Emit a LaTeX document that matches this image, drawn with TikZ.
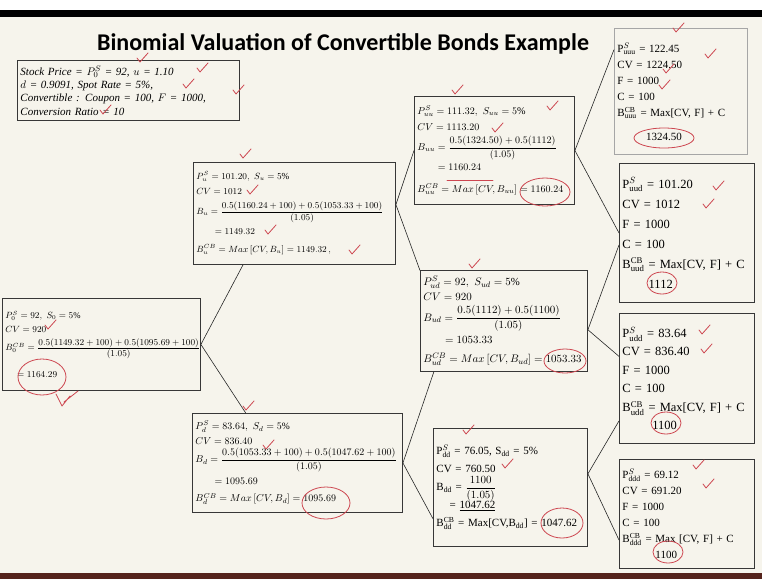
\documentclass[tikz,border=0pt]{standalone}
\usepackage{amsmath}
\usepackage{fontspec}
\setmainfont{Liberation Serif}
\newfontfamily\titlefont{Carlito}
\usetikzlibrary{positioning}

\definecolor{slidebg}{RGB}{246,244,236}
\definecolor{boxline}{RGB}{55,55,55}
\definecolor{penred}{RGB}{205,70,80}
\definecolor{barred}{RGB}{85,35,28}

% small red tick of the lecturer's pen
\newcommand{\penchk}[2]{\draw[pen] (#1-3,#2-2) -- (#1,#2+2) -- (#1+8,#2-7);}

\begin{document}
\begin{tikzpicture}[
    x=1pt, y=-1pt,
    node distance=0.4cm,
    cell/.style={draw=boxline, line width=0.9pt, anchor=north west, align=left,
        inner xsep=3pt, inner ysep=1pt, font=\fontsize{10}{13}\selectfont},
    leaf/.style={cell, font=\fontsize{12.5}{20}\selectfont},
    link/.style={draw=black!85, line width=0.6pt},
    pen/.style={draw=penred, line width=0.8pt, line cap=round, line join=round}
]
\useasboundingbox (0,0) rectangle (762,579);
\fill[slidebg] (0,0) rectangle (762,579);
\fill[white] (0,0) rectangle (762,10);
\fill[black] (0,10) rectangle (762,17);
\fill[barred] (0,573) rectangle (762,579);

\node[anchor=base, font=\titlefont\bfseries\fontsize{24}{28}\selectfont] (title) at (343,50)
    {Binomial Valuation of Convertible Bonds Example};

% data of the bond
\node[cell, text width=216pt, minimum height=60pt, font=\itshape\fontsize{11}{13.4}\selectfont] (info) at (17,60)
    {Stock Price = $P_0^S$ = 92, $u$ = 1.10\\
     $d$ = 0.9091, Spot Rate = 5\%,\\
     Convertible : Coupon = 100, $F$ = 1000,\\
     Conversion Ratio = 10};

% the tree
\node[cell, text width=192pt, minimum height=92pt, font=\fontsize{8.7}{14}\selectfont] (root) at (2,298)
    {\mbox{$P_0^S = 92,\ S_0 = 5\%$}\\
     \mbox{$CV = 920$}\\[4pt]
     \mbox{$B_0^{CB} = \dfrac{0.5(1149.32+100)+0.5(1095.69+100)}{(1.05)}$}\\[12pt]
     \mbox{$\quad\ = 1164.29$}};
\node[cell, text width=196pt, minimum height=102pt, font=\fontsize{9.2}{15}\selectfont] (u) at (193,162)
    {\mbox{$P_u^S = 101.20,\ S_u = 5\%$}\\
     \mbox{$CV = 1012$}\\[5pt]
     \mbox{$B_u = \dfrac{0.5(1160.24+100)+0.5(1053.33+100)}{(1.05)}$}\\[5pt]
     \mbox{$\qquad = 1149.32$}\\[3pt]
     \mbox{$B_u^{CB} = Max\,[CV, B_u] = 1149.32\,,$}};
\node[cell, text width=204pt, minimum height=99pt, font=\fontsize{9.6}{14.5}\selectfont] (d) at (192,413)
    {\mbox{$P_d^S = 83.64,\ S_d = 5\%$}\\
     \mbox{$CV = 836.40$}\\[4pt]
     \mbox{$B_d = \dfrac{0.5(1053.33+100)+0.5(1047.62+100)}{(1.05)}$}\\[5pt]
     \mbox{$\qquad = 1095.69$}\\[3pt]
     \mbox{$B_d^{CB} = Max\,[CV, B_d] = 1095.69$}};
\node[cell, text width=154pt, minimum height=108pt, font=\fontsize{10.2}{16}\selectfont] (uu) at (414,96)
    {\mbox{$P_{uu}^S = 111.32,\ S_{uu} = 5\%$}\\
     \mbox{$CV = 1113.20$}\\[4pt]
     \mbox{$B_{uu} = \dfrac{0.5(1324.50)+0.5(1112)}{(1.05)}$}\\[4pt]
     \mbox{$\qquad = 1160.24$}\\[6pt]
     \mbox{$B_{uu}^{CB} = Max\,[CV, B_{uu}] = 1160.24$}};
\node[cell, text width=161pt, minimum height=101pt, font=\fontsize{10.8}{15}\selectfont] (ud) at (420,270)
    {\mbox{$P_{ud}^S = 92,\ S_{ud} = 5\%$}\\
     \mbox{$CV = 920$}\\[4pt]
     \mbox{$B_{ud} = \dfrac{0.5(1112)+0.5(1100)}{(1.05)}$}\\[4pt]
     \mbox{$\qquad = 1053.33$}\\[4pt]
     \mbox{$B_{ud}^{CB} = Max\,[CV, B_{ud}] = 1053.33$}};
\node[cell, text width=148pt, minimum height=118pt, font=\fontsize{11}{18}\selectfont] (dd) at (433,428)
    {P$^S_{\mathrm{dd}}$ = 76.05, S$_{\mathrm{dd}}$ = 5\%\\
     CV = 760.50\\
     B$_{\mathrm{dd}}$ = $\dfrac{1100}{(1.05)}$\\
     \hspace{1.2em}= \underline{1047.62}\\
     \mbox{B$^{\mathrm{CB}}_{\mathrm{dd}}$ = Max[CV,B$_{\mathrm{dd}}$] = 1047.62}};

% maturity
\node[leaf, draw=black!35, text width=127pt, minimum height=126pt, font=\fontsize{11}{16}\selectfont] (uuu) at (614,28)
    {P$^S_{\mathrm{uuu}}$ = 122.45\\
     CV = 1224.50\\
     F = 1000\\
     C = 100\\
     B$^{\mathrm{CB}}_{\mathrm{uuu}}$ = Max[CV, F] + C\\[8pt]
     \hspace{2.6em}1324.50};
\node[leaf, text width=129pt, minimum height=139pt] (uud) at (619,163)
    {P$^S_{\mathrm{uud}}$ = 101.20\\
     CV = 1012\\
     F = 1000\\
     C = 100\\
     B$^{\mathrm{CB}}_{\mathrm{uud}}$ = Max[CV, F] + C\\
     \hspace{2.1em}1112};
\node[leaf, text width=129pt, minimum height=130pt, font=\fontsize{12.5}{18.5}\selectfont] (udd) at (619,313)
    {P$^S_{\mathrm{udd}}$ = 83.64\\
     CV = 836.40\\
     F = 1000\\
     C = 100\\
     B$^{\mathrm{CB}}_{\mathrm{udd}}$ = Max[CV, F] + C\\
     \hspace{2.4em}1100};
\node[leaf, text width=129pt, minimum height=109pt, font=\fontsize{11}{16}\selectfont] (ddd) at (619,459)
    {P$^S_{\mathrm{ddd}}$ = 69.12\\
     CV = 691.20\\
     F = 1000\\
     C = 100\\
     B$^{\mathrm{CB}}_{\mathrm{ddd}}$ = Max [CV, F] + C\\
     \hspace{3em}1100};

\draw[link] (root.east) -- (u.225);
\draw[link] (root.east) -- (d.136);
\draw[link] (u.5) -- (uu.west);
\draw[link] (u.5) -- (ud.149);
\draw[link] (d.east) -- (ud.216);
\draw[link] (d.east) -- (dd.202);
\draw[link] (uu.east) -- (uuu.148);
\draw[link] (uu.east) -- (uud.west);
\draw[link] (ud.-6) -- (uud.190);
\draw[link] (ud.-6) -- (udd.162);
\draw[link] (dd.10) -- (udd.212);
\draw[link] (dd.10) -- (ddd.201);

% red pen marks
\draw[pen] (42,377) ellipse [x radius=24, y radius=18];
\draw[pen] (56,394) -- (62,406) -- (70,396) (64,402) -- (78,391);
\draw[pen] (326,503) ellipse [x radius=24, y radius=16];
\draw[pen] (545,192) ellipse [x radius=25, y radius=14];
\draw[pen] (447,180) -- (493,180);
\draw[pen] (565,361) ellipse [x radius=21, y radius=12];
\draw[pen] (562,523) ellipse [x radius=21, y radius=15];
\draw[pen] (664,138) ellipse [x radius=30, y radius=10];
\draw[pen] (662,283) ellipse [x radius=15, y radius=11];
\draw[pen] (666,423) ellipse [x radius=15, y radius=11];
\draw[pen] (668,552) ellipse [x radius=15, y radius=11];
\penchk{140}{60}
\penchk{200}{70}
\penchk{186}{86}
\penchk{236}{92}
\penchk{103}{112}
\penchk{48}{327}
\penchk{243}{156}
\penchk{250}{192}
\penchk{268}{232}
\penchk{352}{252}
\penchk{246}{408}
\penchk{266}{447}
\penchk{455}{92}
\penchk{550}{108}
\penchk{495}{130}
\penchk{472}{266}
\penchk{466}{432}
\penchk{505}{466}
\penchk{676}{30}
\penchk{708}{56}
\penchk{666}{71}
\penchk{662}{87}
\penchk{716}{188}
\penchk{706}{206}
\penchk{702}{332}
\penchk{704}{351}
\penchk{696}{467}
\penchk{706}{486}
\end{tikzpicture}
\end{document}
